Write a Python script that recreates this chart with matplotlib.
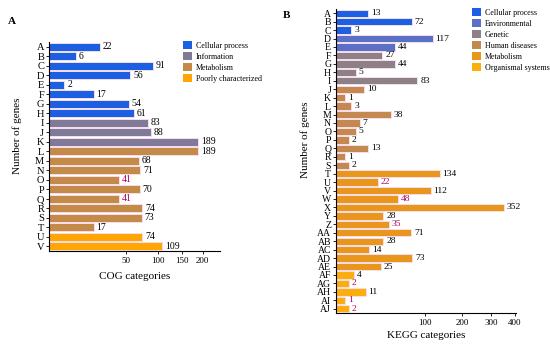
import numpy as np
import matplotlib
matplotlib.use("Agg")
import matplotlib.pyplot as plt
from matplotlib.patches import Patch

plt.rcParams['font.family'] = ['Liberation Serif', 'DejaVu Serif']

# ---- Panel A data (COG) ----
cog_cats = list("ABCDEFGHIJKLMNOPQRSTUV")
cog_vals = [22, 6, 91, 56, 2, 17, 54, 61, 83, 88, 189, 189, 68, 71, 41, 70, 41, 74, 73, 17, 74, 109]
cog_groups = ["Cellular process"] * 8 + ["Information"] * 3 + ["Metabolism"] * 9 + ["Poorly characterized"] * 2
cog_group_names = ["Cellular process", "Information", "Metabolism", "Poorly characterized"]
cog_group_colors = ["#1B5FE3", "#7E7A98", "#C48B48", "#FFA604"]
cog_red = ["O", "Q"]
cog_ticks = [50, 100, 150, 200]

# ---- Panel B data (KEGG) ----
kegg_cats = ["A", "B", "C", "D", "E", "F", "G", "H", "I", "J", "K", "L", "M", "N", "O", "P", "Q", "R", "S",
             "T", "U", "V", "W", "X", "Y", "Z", "AA", "AB", "AC", "AD", "AE", "AF", "AG", "AH", "AI", "AJ"]
kegg_vals = [13, 72, 3, 117, 44, 27, 44, 5, 83, 10, 1, 3, 38, 7, 5, 2, 13, 1, 2,
             134, 22, 112, 48, 352, 28, 35, 71, 28, 14, 73, 25, 4, 2, 11, 1, 2]
kegg_groups = (["Cellular process"] * 3 + ["Environmental"] * 2 + ["Genetic"] * 4 + ["Human diseases"] * 10
               + ["Metabolism"] * 12 + ["Organismal systems"] * 5)
kegg_group_names = ["Cellular process", "Environmental", "Genetic", "Human diseases", "Metabolism", "Organismal systems"]
kegg_group_colors = ["#1B5FE3", "#5A6FC6", "#8D8087", "#C4894F", "#E8961C", "#FCAE0C"]
kegg_red = ["U", "W", "Z", "AG", "AI", "AJ"]
kegg_ticks = [100, 200, 300, 400]

fig = plt.figure(figsize=(5.5, 3.46), dpi=100)

def fwd(x):
    return np.sqrt(np.clip(x, 0, None))

def inv(x):
    return np.square(x)

def panel(rect, cats, vals, groups, names, colors, reds, ticks, xmax, xlabel,
          tick_fs, val_fs, leg_pos, leg_fs, letter, letter_pos, ylab_x, ylab_frac, xlabpad):
    ax = fig.add_axes(rect)
    cmap = dict(zip(names, colors))
    y = np.arange(len(cats))
    ax.barh(y, vals, height=0.86, color=[cmap[g] for g in groups],
            edgecolor="#F9DDEE", linewidth=0.7)
    ax.set_xscale('function', functions=(fwd, inv))
    ax.set_xlim(0, xmax)
    ax.set_ylim(len(cats) - 0.5, -0.5)
    ax.set_yticks(y)
    ax.set_yticklabels(cats, fontsize=tick_fs)
    ax.set_xticks(ticks)
    ax.set_xticklabels([str(t) for t in ticks], fontsize=6.5)
    ax.xaxis.set_minor_locator(matplotlib.ticker.NullLocator())
    for s in ["top", "right"]:
        ax.spines[s].set_visible(False)
    ax.tick_params(axis='y', length=2.5, width=0.6, pad=1)
    ax.tick_params(axis='x', length=2.5, width=0.6, pad=2)
    for sp in ["left", "bottom"]:
        ax.spines[sp].set_linewidth(0.8)
    for yi, v, c in zip(y, vals, cats):
        col = "#B0005A" if c in reds else "black"
        ax.annotate(str(v), (v, yi), xytext=(2, 0), textcoords="offset points",
                    va="center", ha="left", fontsize=val_fs, color=col)
    ax.set_xlabel(xlabel, fontsize=8, labelpad=xlabpad)
    fig.text(ylab_x, rect[1] + rect[3] * ylab_frac, "Number of genes", rotation=90,
             fontsize=8, ha="center", va="center")
    handles = [Patch(facecolor=c, edgecolor="none") for c in colors]
    fig.legend(handles, names, loc="upper left", bbox_to_anchor=leg_pos, frameon=False,
               fontsize=leg_fs, handlelength=1.1, handleheight=1.1, handletextpad=0.5,
               labelspacing=0.3, borderaxespad=0, borderpad=0)
    fig.text(letter_pos[0], letter_pos[1], letter, fontsize=8, fontweight="bold",
             ha="left", va="center")
    return ax

panel([49 / 550, 1 - 251 / 346, 171 / 550, 209 / 346], cog_cats, cog_vals, cog_groups,
      cog_group_names, cog_group_colors, cog_red, cog_ticks, 248, "COG categories",
      7.5, 7, (183 / 550, 1 - 41 / 346), 5.8, "A", (8 / 550, 1 - 22 / 346), 17 / 550, 0.55, 5)

panel([336 / 550, 1 - 313 / 346, 180 / 550, 304 / 346], kegg_cats, kegg_vals, kegg_groups,
      kegg_group_names, kegg_group_colors, kegg_red, kegg_ticks, 405, "KEGG categories",
      7, 6.8, (472 / 550, 1 - 8 / 346), 5.8, "B", (283 / 550, 1 - 15 / 346), 305 / 550, 0.57, 3)

fig.savefig("out.png", dpi=100)
